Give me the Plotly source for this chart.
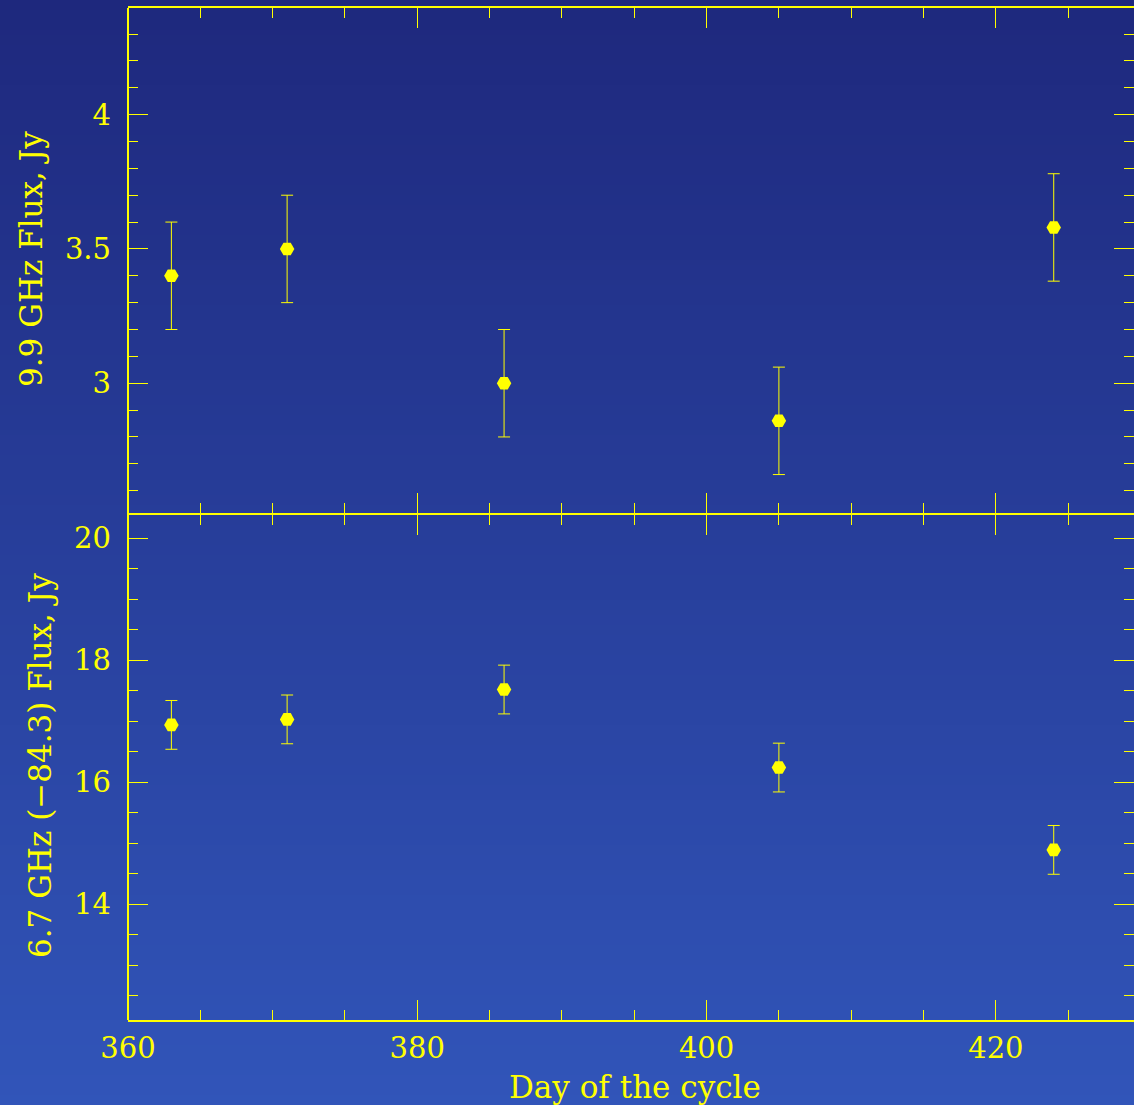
import plotly.graph_objects as go
from plotly.subplots import make_subplots

# Observation days and measured fluxes with their uncertainties
day = [363, 371, 386, 405, 424]
flux_9_9 = [3.40, 3.50, 3.00, 2.86, 3.58]
err_9_9 = [0.20, 0.20, 0.20, 0.20, 0.20]
flux_6_7 = [16.94, 17.03, 17.52, 16.24, 14.89]
err_6_7 = [0.40, 0.40, 0.40, 0.40, 0.40]

YELLOW = "#ffff00"
FONT = "DejaVu Serif"

W, H = 1134, 1105
M_L, M_R, M_T, M_B = 128, 0, 8, 85
PLOT_W = W - M_L - M_R
PLOT_H = H - M_T - M_B
# panel boundaries (fractions of the plotting height); the 2 px gap lets the
# bottom frame line of the upper panel and the top line of the lower one coincide
LOWER_TOP = 505.3 / PLOT_H
UPPER_BOTTOM = 507.3 / PLOT_H

fig = make_subplots(rows=2, cols=1, shared_xaxes=True, vertical_spacing=0)

marker = dict(symbol="hexagon2", size=14.5, color=YELLOW, line=dict(width=0))

fig.add_trace(go.Scatter(
    x=day, y=flux_9_9, mode="markers", marker=marker,
    error_y=dict(type="data", array=err_9_9, color=YELLOW, thickness=1, width=6),
    showlegend=False), row=1, col=1)
fig.add_trace(go.Scatter(
    x=day, y=flux_6_7, mode="markers", marker=marker,
    error_y=dict(type="data", array=err_6_7, color=YELLOW, thickness=1, width=6),
    showlegend=False), row=2, col=1)

# vertical background gradient, drawn as thin strips across the whole page
top_rgb = (30, 40, 125)
bot_rgb = (49, 85, 185)
shapes = []
step = 5
for py in range(0, H, step):
    t = (py + step / 2) / H
    c = tuple(round(a + (b - a) * t) for a, b in zip(top_rgb, bot_rgb))
    y0 = (M_T + PLOT_H - (py + step + 1)) / PLOT_H
    y1 = (M_T + PLOT_H - py) / PLOT_H
    shapes.append(dict(type="rect", xref="paper", yref="paper",
                       x0=-M_L / PLOT_W - 0.01, x1=1.01, y0=y0, y1=y1,
                       fillcolor="rgb(%d,%d,%d)" % c, line=dict(width=0),
                       layer="below"))
# left frame line
shapes.append(dict(type="line", xref="paper", yref="paper", x0=0, x1=0, y0=0, y1=1,
                   line=dict(color=YELLOW, width=2), layer="above"))

tick_font = dict(family=FONT, size=29, color=YELLOW)
title_font = dict(family=FONT, size=31, color=YELLOW)

xcommon = dict(range=[360, 429.55], showgrid=False, zeroline=False,
               showline=True, linecolor=YELLOW, linewidth=2, mirror="allticks",
               ticks="inside", ticklen=20, tickwidth=1.2, tickcolor=YELLOW,
               dtick=20, tick0=0,
               minor=dict(dtick=5, tick0=0, ticks="inside", ticklen=10,
                          tickwidth=1.2, tickcolor=YELLOW, showgrid=False),
               tickfont=tick_font)
ycommon = dict(showgrid=False, zeroline=False, showline=False, mirror="allticks",
               ticks="inside", ticklen=20, tickwidth=1.2, tickcolor=YELLOW,
               tickfont=tick_font, ticklabelstandoff=16)

fig.update_layout(
    width=W, height=H,
    margin=dict(l=M_L, r=M_R, t=M_T, b=M_B, pad=0),
    paper_bgcolor="rgb(39,62,155)",
    plot_bgcolor="rgba(0,0,0,0)",
    shapes=shapes,
    xaxis=dict(xcommon, showticklabels=False),
    xaxis2=dict(xcommon, showticklabels=True, ticklabelstandoff=1),
    yaxis=dict(ycommon, domain=[UPPER_BOTTOM, 1], range=[2.518, 4.397], dtick=0.5, tick0=0,
               minor=dict(dtick=0.1, tick0=0, ticks="inside", ticklen=10,
                          tickwidth=1.2, tickcolor=YELLOW, showgrid=False)),
    yaxis2=dict(ycommon, domain=[0, LOWER_TOP], range=[12.10, 20.387], dtick=2, tick0=0,
                minor=dict(dtick=0.5, tick0=0, ticks="inside", ticklen=10,
                           tickwidth=1.2, tickcolor=YELLOW, showgrid=False)),
    annotations=[
        dict(text="9.9 GHz Flux, Jy", xref="paper", yref="paper",
             x=(31 - M_L) / PLOT_W, y=(M_T + PLOT_H - 259) / PLOT_H,
             xanchor="center", yanchor="middle", textangle=-90, showarrow=False,
             font=title_font),
        dict(text="6.7 GHz (\u221284.3) Flux, Jy", xref="paper", yref="paper",
             x=(40 - M_L) / PLOT_W, y=(M_T + PLOT_H - 766) / PLOT_H,
             xanchor="center", yanchor="middle", textangle=-90, showarrow=False,
             font=title_font),
        dict(text="Day of the cycle", xref="paper", yref="paper",
             x=(635 - M_L) / PLOT_W, y=(M_T + PLOT_H - 1087) / PLOT_H,
             xanchor="center", yanchor="middle", showarrow=False,
             font=title_font),
    ],
)

fig.write_html("out.html")
